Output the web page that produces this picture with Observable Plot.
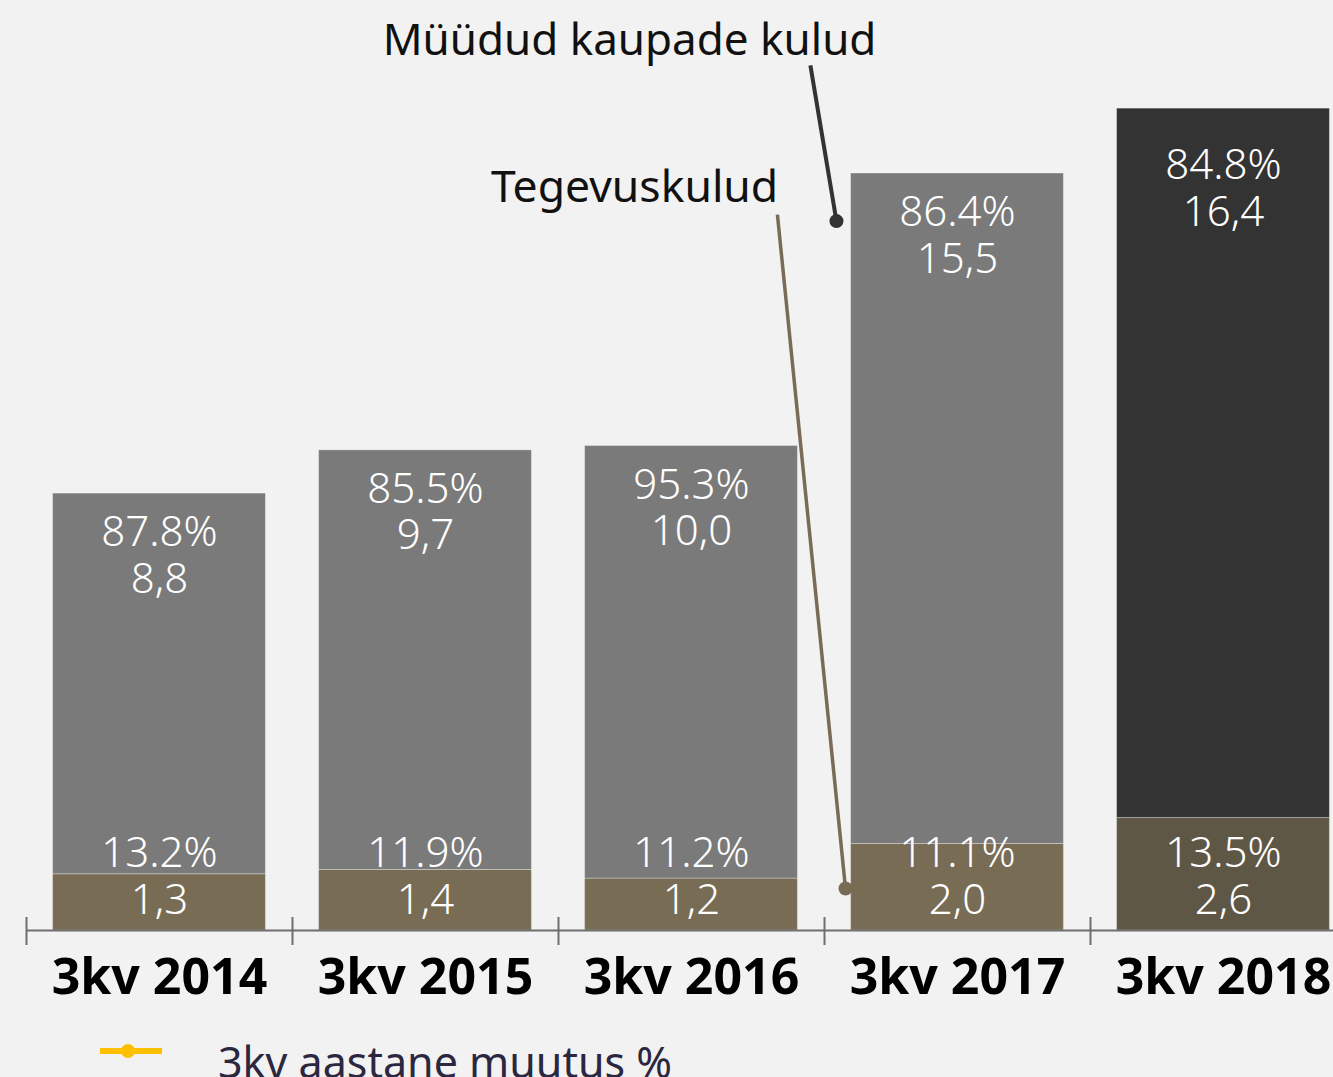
<!DOCTYPE html>
<html>
<head>
<meta charset="utf-8">
<script src="https://cdn.jsdelivr.net/npm/d3@7"></script>
<script src="https://cdn.jsdelivr.net/npm/@observablehq/plot@0.6"></script>
<style>
  html, body { margin: 0; padding: 0; background: #f2f2f2; overflow: hidden; width: 1333px; height: 1077px; }
  #chart svg { display: block; max-width: none !important; }
  #legend { position: relative; height: 67px; font-family: "Noto Sans", sans-serif; }
  #legend .sw { position: absolute; left: 100px; top: 31px; }
  #legend .lab { position: absolute; left: 218px; top: 30px; font-size: 43px; color: #2b2740; white-space: nowrap; line-height: 1; }
</style>
</head>
<body>
<div id="chart"></div>
<div id="legend">
  <svg class="sw" width="64" height="20"><line x1="0" y1="10" x2="62" y2="10" stroke="#ffc000" stroke-width="6"/><circle cx="28" cy="10" r="7" fill="#ffc000"/></svg>
  <span class="lab">3kv aastane muutus %</span>
</div>
<script>
const categories = ["3kv 2014", "3kv 2015", "3kv 2016", "3kv 2017", "3kv 2018"];
const tegevuskulud = [1.3, 1.4, 1.2, 2.0, 2.6];
const tegevuskuludPct = ["13.2%", "11.9%", "11.2%", "11.1%", "13.5%"];
const myydudKulud = [8.8, 9.7, 10.0, 15.5, 16.4];
const myydudPct = ["87.8%", "85.5%", "95.3%", "86.4%", "84.8%"];

const fmt = v => v.toFixed(1).replace(".", ",");

const rows = [];
categories.forEach((c, i) => {
  rows.push({i, cat: c, series: "Tegevuskulud", y1: 0, y2: tegevuskulud[i]});
  rows.push({i, cat: c, series: "Müüdud kaupade kulud", y1: tegevuskulud[i], y2: tegevuskulud[i] + myydudKulud[i]});
});
const last = categories.length - 1;
const fillOf = d => d.series === "Tegevuskulud"
  ? (d.i === last ? "#5f5745" : "#786c55")
  : (d.i === last ? "#333333" : "#7a7a7a");

const topLabels = categories.map((c, i) => ({i, y: tegevuskulud[i] + myydudKulud[i], text: myydudPct[i] + "\n" + fmt(myydudKulud[i])}));
const botLabels = categories.map((c, i) => ({i, text: tegevuskuludPct[i] + "\n" + fmt(tegevuskulud[i])}));
const bounds = d3.range(categories.length + 1).map(k => k - 0.5);

// annotation anchors (data units)
const annMyydud = {tx: 1.767, ty: 20.25, x1: 2.447, y1: 20.0, x2: 2.545, y2: 16.4, label: "Müüdud kaupade kulud"};
const annTeg = {tx: 1.786, ty: 16.85, x1: 2.323, y1: 16.55, x2: 2.579, y2: 0.97, label: "Tegevuskulud"};

const font = "Noto Sans, sans-serif";

const chart = Plot.plot({
  width: 1360,
  height: 1010,
  marginLeft: 26,
  marginRight: 4,
  marginTop: 0,
  marginBottom: 80,
  style: {background: "#f2f2f2", fontFamily: font, overflow: "visible", maxWidth: "none"},
  x: {type: "linear", domain: [-0.5, categories.length - 0.5], axis: null},
  y: {domain: [0, 21.5], axis: null},
  marks: [
    Plot.rectY(rows, {x1: d => d.i - 0.4, x2: d => d.i + 0.4, y1: "y1", y2: "y2", fill: fillOf, stroke: "#ffffff", strokeOpacity: 0.3, strokeWidth: 1}),
    Plot.ruleY([0], {stroke: "#6e6e6e", strokeWidth: 2}),
    Plot.ruleX(bounds, {x: d => d, y1: 0, y2: 0, insetTop: -13, insetBottom: -15, stroke: "#6e6e6e", strokeWidth: 2}),
    Plot.text(topLabels.filter(d => d.i !== last), {x: "i", y: "y", text: "text", lineAnchor: "top", dy: 20, lineHeight: 1.1, fill: "white", fontSize: 42, fontWeight: 300}),
    Plot.text(topLabels.filter(d => d.i === last), {x: "i", y: "y", text: "text", lineAnchor: "top", dy: 38, lineHeight: 1.1, fill: "white", fontSize: 42, fontWeight: 300}),
    Plot.text(botLabels, {x: "i", y: 0, text: "text", lineAnchor: "bottom", dy: -17, lineHeight: 1.1, fill: "white", fontSize: 42, fontWeight: 300}),
    Plot.text(categories.map((c, i) => ({i, c})), {x: "i", y: 0, text: "c", dy: 47, fontSize: 50, fontWeight: "bold", fill: "#000"}),
    Plot.link([annMyydud], {x1: "x1", y1: "y1", x2: "x2", y2: "y2", stroke: "#333333", strokeWidth: 4}),
    Plot.dot([annMyydud], {x: "x2", y: "y2", r: 7, fill: "#333333"}),
    Plot.text([annMyydud], {x: "tx", y: "ty", text: "label", fontSize: 44, fill: "#111", lineAnchor: "bottom"}),
    Plot.link([annTeg], {x1: "x1", y1: "y1", x2: "x2", y2: "y2", stroke: "#786c55", strokeWidth: 3.5}),
    Plot.dot([annTeg], {x: "x2", y: "y2", r: 7, fill: "#786c55"}),
    Plot.text([annTeg], {x: "tx", y: "ty", text: "label", fontSize: 44.5, fill: "#111", lineAnchor: "bottom"})
  ]
});
document.getElementById("chart").appendChild(chart);
</script>
</body>
</html>
